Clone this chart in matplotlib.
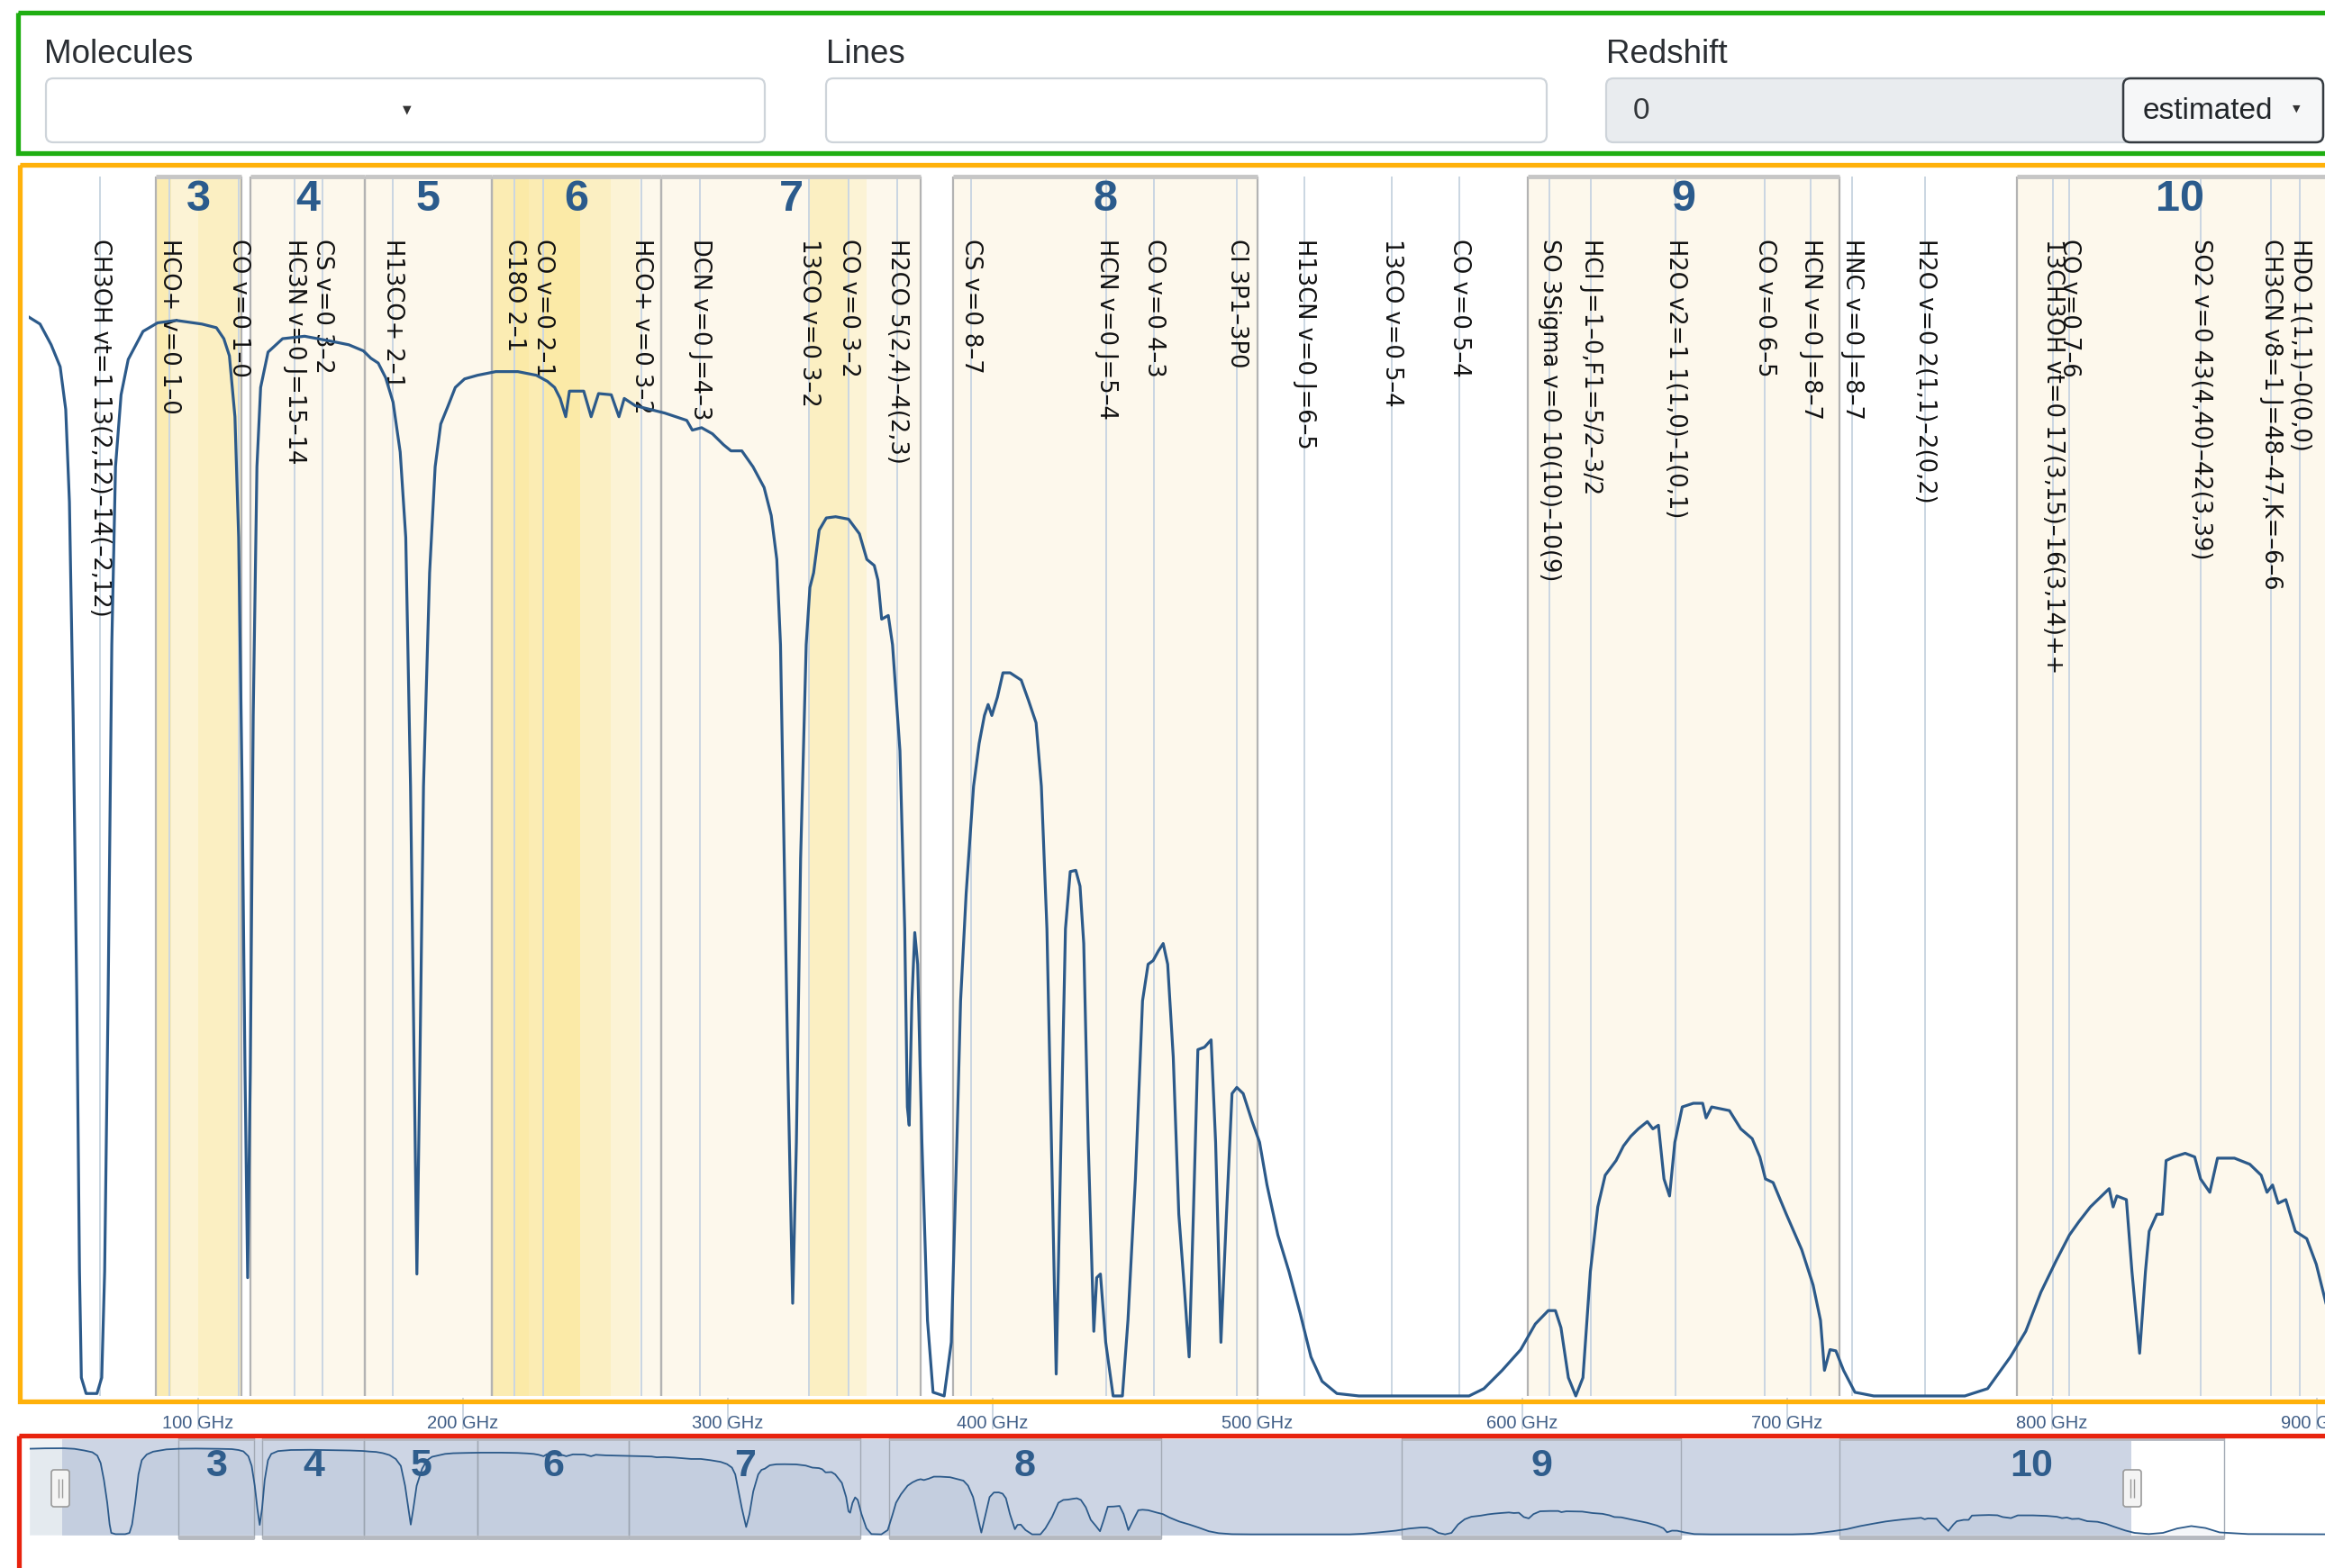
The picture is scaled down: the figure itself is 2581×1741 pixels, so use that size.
#!/usr/bin/env python3

import numpy as np
import matplotlib.pyplot as plt
from matplotlib.patches import Rectangle, FancyBboxPatch

# atmospheric transmission (GHz, fraction)
freq_ghz = [35.96, 40.4, 44.6, 48.0, 50.1, 51.5, 52.9, 54.3, 55.3, 56.0, 57.8, 61.9, 63.7, 64.8,
            66.1, 67.5, 68.9, 71.0, 73.7, 79.3, 84.8, 91.8, 101.5, 107.0, 109.8, 111.9, 114.0,
            115.4, 116.7, 117.8, 118.8, 119.8, 120.9, 122.3, 123.7, 126.5, 132.0, 140.3, 150.1,
            157.0, 162.5, 165.3, 168.1, 170.9, 173.7, 176.4, 178.5, 180.3, 181.7, 182.7, 183.8,
            185.2, 187.5, 189.6, 191.7, 194.5, 197.2, 200.7, 205.6, 212.5, 220.8, 227.8, 232.0,
            234.7, 236.8, 238.9, 240.3, 243.0, 245.7, 248.5, 251.3, 256.1, 259.0, 261.0, 265.2,
            270.7, 276.3, 280.4, 284.6, 286.7, 290.2, 294.3, 298.5, 301.3, 305.4, 309.6, 313.8,
            316.5, 318.6, 320.0, 321.4, 322.8, 324.6, 326.0, 327.6, 329.7, 331.1, 332.5, 334.6,
            337.3, 340.8, 345.7, 349.8, 352.6, 355.4, 356.8, 358.2, 360.7, 362.3, 365.1, 366.9,
            367.9, 368.6, 369.6, 370.7, 371.8, 373.4, 375.5, 377.6, 381.8, 384.5, 386.6, 388.0,
            390.1, 392.9, 395.0, 397.0, 398.4, 399.8, 401.9, 404.0, 406.7, 410.9, 413.7, 416.5,
            418.5, 420.6, 422.3, 424.1, 425.9, 427.6, 429.4, 431.5, 433.1, 434.5, 436.2, 438.3,
            439.4, 440.8, 442.8, 445.6, 449.1, 451.2, 454.0, 456.7, 458.8, 460.7, 462.7, 464.5,
            466.2, 468.3, 470.4, 472.4, 474.3, 475.9, 477.6, 480.1, 482.6, 484.3, 486.3, 488.4,
            490.5, 492.3, 494.7, 498.1, 500.9, 503.7, 507.8, 512.0, 516.2, 520.3, 524.5, 530.1,
            538.4, 580.0, 585.6, 592.5, 599.5, 605.0, 609.9, 612.6, 614.7, 617.5, 620.3, 623.0,
            625.8, 628.6, 631.4, 635.5, 638.3, 641.1, 643.9, 647.3, 649.4, 651.5, 653.6, 655.7,
            657.7, 660.5, 664.7, 668.2, 669.5, 671.6, 678.3, 682.6, 686.9, 689.8, 691.9, 694.8,
            699.8, 705.6, 709.9, 712.7, 714.2, 716.3, 718.5, 721.4, 725.7, 732.8, 767.2, 775.8,
            784.4, 790.2, 795.9, 801.7, 806.7, 810.3, 814.6, 821.7, 823.2, 824.6, 828.2, 830.3,
            833.2, 835.4, 836.8, 839.7, 841.8, 843.2, 846.1, 850.4, 854.0, 856.2, 859.7, 862.6,
            869.0, 874.8, 879.1, 881.3, 883.4, 885.5, 888.4, 892.0, 896.3, 899.9, 903.2, 908.0,
            912.0]
transmission = [0.885, 0.879, 0.862, 0.844, 0.809, 0.733, 0.558, 0.324, 0.102, 0.015, 0.002, 0.002,
                0.015, 0.102, 0.324, 0.616, 0.762, 0.821, 0.850, 0.873, 0.880, 0.882, 0.879, 0.876,
                0.867, 0.853, 0.803, 0.704, 0.500, 0.266, 0.097, 0.266, 0.558, 0.762, 0.827, 0.856,
                0.867, 0.869, 0.865, 0.862, 0.857, 0.851, 0.847, 0.835, 0.815, 0.774, 0.704, 0.500,
                0.266, 0.100, 0.266, 0.500, 0.675, 0.762, 0.797, 0.812, 0.827, 0.834, 0.837, 0.840,
                0.840, 0.837, 0.832, 0.827, 0.818, 0.803, 0.824, 0.824, 0.824, 0.803, 0.822, 0.821,
                0.803, 0.818, 0.812, 0.809, 0.806, 0.803, 0.800, 0.792, 0.794, 0.789, 0.780, 0.775,
                0.775, 0.762, 0.745, 0.722, 0.686, 0.616, 0.441, 0.266, 0.076, 0.208, 0.441, 0.616,
                0.663, 0.675, 0.710, 0.720, 0.721, 0.719, 0.707, 0.686, 0.681, 0.669, 0.637, 0.640,
                0.616, 0.529, 0.383, 0.237, 0.222, 0.324, 0.380, 0.354, 0.208, 0.062, 0.003, 0.000,
                0.044, 0.208, 0.324, 0.412, 0.500, 0.535, 0.558, 0.567, 0.558, 0.573, 0.593, 0.593,
                0.587, 0.570, 0.552, 0.500, 0.383, 0.208, 0.018, 0.208, 0.383, 0.430, 0.431, 0.418,
                0.371, 0.208, 0.053, 0.097, 0.100, 0.044, 0.000, 0.000, 0.062, 0.178, 0.324, 0.354,
                0.357, 0.365, 0.371, 0.354, 0.278, 0.149, 0.091, 0.032, 0.149, 0.284, 0.286, 0.292,
                0.208, 0.044, 0.149, 0.248, 0.253, 0.248, 0.225, 0.208, 0.173, 0.132, 0.102, 0.068,
                0.032, 0.012, 0.002, 0.000, 0.000, 0.006, 0.021, 0.038, 0.059, 0.070, 0.070, 0.056,
                0.015, 0.000, 0.015, 0.102, 0.155, 0.181, 0.193, 0.205, 0.213, 0.219, 0.225, 0.219,
                0.222, 0.178, 0.164, 0.208, 0.237, 0.240, 0.240, 0.228, 0.237, 0.234, 0.219, 0.211,
                0.196, 0.178, 0.175, 0.149, 0.120, 0.091, 0.062, 0.021, 0.038, 0.037, 0.021, 0.003,
                0.000, 0.000, 0.006, 0.032, 0.053, 0.085, 0.111, 0.132, 0.143, 0.155, 0.170, 0.155,
                0.164, 0.161, 0.102, 0.035, 0.102, 0.135, 0.149, 0.149, 0.193, 0.196, 0.199, 0.196,
                0.178, 0.167, 0.195, 0.195, 0.190, 0.181, 0.167, 0.173, 0.158, 0.161, 0.135, 0.129,
                0.108, 0.079, 0.040, 0.015]

# the navigator shows a wider range than the main view
nav_lo_freq = [21.5, 28.0, 33.0]
nav_lo_trans = [0.880, 0.884, 0.885]
nav_hi_freq = [918.0, 924.0, 930.0, 936.0, 942.0, 948.0, 960.0, 1000.0]
nav_hi_trans = [0.003, 0.015, 0.060, 0.085, 0.065, 0.020, 0.003, 0.0]

band_names = ['3', '4', '5', '6', '7', '8', '9', '10']
band_lo = [84.2, 120.0, 163.0, 211.0, 275.0, 385.0, 602.0, 787.0]
band_hi = [116.4, 163.0, 211.0, 275.0, 373.0, 500.0, 720.0, 950.0]

# yellow highlighted spectral windows (overlapping ones look deeper)
spw_lo = [84.2, 84.2, 84.2, 100.0, 211.2, 211.2, 211.2, 219.5, 230.5, 330.5, 330.5]
spw_hi = [116.4, 90.0, 90.0, 116.4, 266.7, 256.0, 244.2, 225.0, 244.2, 352.5, 346.0]

line_labels = ['CH3OH vt=1 13(2,12)–14(–2,12)', 'HCO+ v=0 1–0', 'CO v=0 1–0', 'HC3N v=0 J=15–14',
               'CS v=0 3–2', 'H13CO+ 2–1', 'C18O 2–1', 'CO v=0 2–1', 'HCO+ v=0 3–2',
               'DCN v=0 J=4–3', '13CO v=0 3–2', 'CO v=0 3–2', 'H2CO 5(2,4)–4(2,3)', 'CS v=0 8–7',
               'HCN v=0 J=5–4', 'CO v=0 4–3', 'CI 3P1–3P0', 'H13CN v=0 J=6–5', '13CO v=0 5–4',
               'CO v=0 5–4', 'SO 3Sigma v=0 10(10)–10(9)', 'HCl J=1–0,F1=5/2–3/2',
               'H2O v2=1 1(1,0)–1(0,1)', 'CO v=0 6–5', 'HCN v=0 J=8–7', 'HNC v=0 J=8–7',
               'H2O v=0 2(1,1)–2(0,2)', '13CH3OH vt=0 17(3,15)–16(3,14)++', 'CO v=0 7–6',
               'SO2 v=0 43(4,40)–42(3,39)', 'CH3CN v8=1 J=48–47,K=–6–6', 'HDO 1(1,1)–0(0,0)']
line_freq = [62.9, 89.19, 115.27, 136.46, 146.97, 173.51, 219.56, 230.54, 267.56, 289.64,
             330.59, 345.80, 363.95, 391.85, 443.12, 461.04, 492.16, 517.97, 550.93, 576.27,
             610.2, 625.9, 658.0, 691.47, 708.88, 724.78, 752.03, 800.6, 806.65, 856.2,
             882.7, 893.64]

tick_freq = [100, 200, 300, 400, 500, 600, 700, 800, 900]
tick_labels = [f'{t} GHz' for t in tick_freq]

view_lo, view_hi = 36.0, 910.0
W, H = 2581, 1741
LINE_BLUE = '#2c5a8a'
NARROW = ['Liberation Sans Narrow', 'Liberation Sans', 'DejaVu Sans']
SANS = ['Liberation Sans', 'DejaVu Sans']


def px_box(x0, y0, x1, y1):
    """pixel box (top-left origin) -> figure rect"""
    return [x0 / W, 1 - y1 / H, (x1 - x0) / W, (y1 - y0) / H]


fig = plt.figure(figsize=(W / 100, H / 100), dpi=100)
fig.patch.set_facecolor('white')

# ---------------- main spectrum panel ----------------
ax = fig.add_axes(px_box(31.5, 190, 2601, 1552))
ax.set_xlim(view_lo, view_hi)
ax.set_ylim(-0.0015, 1.0044)
for s in ax.spines.values():
    s.set_visible(False)
ax.set_yticks([])

for lo, hi in zip(band_lo, band_hi):
    ax.add_patch(Rectangle((lo, 0), hi - lo, 1.0, facecolor='#fdf8ec', edgecolor='none', zorder=1))
    ax.plot([lo, hi], [1.0, 1.0], color='#c6c6c6', lw=3.5, zorder=2.6, solid_capstyle='butt')
for lo, hi in zip(spw_lo, spw_hi):
    ax.add_patch(Rectangle((lo, 0), hi - lo, 1.0, facecolor='#fbe27a', alpha=0.2,
                           edgecolor='none', zorder=1.2))

ax.vlines(line_freq, 0, 1.0, color='#cad6e2', lw=1.4, zorder=2)
ax.vlines(band_lo + band_hi, 0, 1.0, color='#b3b3b3', lw=1.6, zorder=2.5)

for name, lo, hi in zip(band_names, band_lo, band_hi):
    xc = (max(lo, view_lo) + min(hi, view_hi)) / 2
    ax.text(xc, 0.981, name, ha='center', va='center', fontsize=35, fontweight='bold',
            color='#2b5b8c', family=NARROW, zorder=3)

for label, f in zip(line_labels, line_freq):
    ax.text(f, 0.949, label, rotation=-90, ha='center', va='top', fontsize=18.5,
            color='#111111', family='DejaVu Sans', zorder=3)

ax.plot(freq_ghz, transmission, color=LINE_BLUE, lw=2.3, zorder=5, solid_joinstyle='round')

ax.set_xticks(tick_freq)
ax.set_xticklabels(tick_labels, family=SANS)
ax.tick_params(axis='x', length=25, width=1.2, color='#c5cfdc', pad=-11,
               labelsize=14.5, labelcolor='#3f5d86')

# ---------------- navigator ----------------
nav = fig.add_axes(px_box(33, 1594, 2600.5, 1710))
nav.set_xlim(21.5, 1000)
nav.set_ylim(-0.059, 1.015)
nav.axis('off')
nav.add_patch(Rectangle((21.5, -0.013), 35.3 - 21.5, 0.991, facecolor='#eef2f5', edgecolor='none'))
nav.add_patch(Rectangle((35.3, -0.013), 910.5 - 35.3, 0.991, facecolor='#cdd5e4', edgecolor='none'))
for lo, hi in zip(band_lo, band_hi):
    nav.add_patch(Rectangle((lo, -0.041), hi - lo, 1.037, facecolor='none',
                            edgecolor='#a2a9b4', lw=1.0))
    nav.plot([lo, hi], [0.99, 0.99], color='#b5b9c0', lw=3.5, solid_capstyle='butt')
    nav.plot([lo, hi], [-0.035, -0.035], color='#b5b9c0', lw=3.5, solid_capstyle='butt')

nav_f = nav_lo_freq + freq_ghz + nav_hi_freq
nav_t = nav_lo_trans + transmission + nav_hi_trans
nav.fill_between(nav_f, 0, nav_t, color=LINE_BLUE, alpha=0.05, lw=0)
nav.plot(nav_f, nav_t, color=LINE_BLUE, lw=1.3)

for name, lo, hi in zip(band_names, band_lo, band_hi):
    nav.text((lo + hi) / 2, 0.70, name, ha='center', va='center', fontsize=31,
             fontweight='bold', color='#2f5d8c', family=NARROW)

# ---------------- page overlay: controls, handles, frames ----------------
ov = fig.add_axes([0, 0, 1, 1], zorder=10)
ov.set_xlim(0, W)
ov.set_ylim(H, 0)
ov.axis('off')
ov.patch.set_alpha(0)

for x0 in [57, 2357]:
    ov.add_patch(FancyBboxPatch((x0, 1632), 20, 41, boxstyle='round,pad=0,rounding_size=3',
                                facecolor='#f4f4f4', edgecolor='#9a9a9a', lw=1.2))
    ov.vlines([x0 + 8, x0 + 12], 1642, 1663, color='#9a9a9a', lw=1.0)

ov.text(49, 61, 'Molecules', fontsize=26.5, color='#2a2e33', va='center', family=SANS)
ov.text(917, 61, 'Lines', fontsize=26.5, color='#2a2e33', va='center', family=SANS)
ov.text(1783, 61, 'Redshift', fontsize=26.5, color='#2a2e33', va='center', family=SANS)

ov.add_patch(FancyBboxPatch((51, 87), 798, 71, boxstyle='round,pad=0,rounding_size=8',
                            facecolor='white', edgecolor='#ced4da', lw=1.6))
ov.text(452, 122, '▼', fontsize=9, color='#333333', ha='center', va='center')
ov.add_patch(FancyBboxPatch((917, 87), 800, 71, boxstyle='round,pad=0,rounding_size=8',
                            facecolor='white', edgecolor='#ced4da', lw=1.6))
ov.add_patch(FancyBboxPatch((1783, 87), 600, 71, boxstyle='round,pad=0,rounding_size=8',
                            facecolor='#e9ecef', edgecolor='#ced4da', lw=1.6))
ov.text(1813, 123, '0', fontsize=24, color='#33373b', va='center', family=SANS)
ov.add_patch(FancyBboxPatch((2357, 87), 222, 71, boxstyle='round,pad=0,rounding_size=8',
                            facecolor='#f6f7f8', edgecolor='#343a40', lw=1.8))
ov.text(2379, 123, 'estimated', fontsize=24, color='#212529', va='center', family=SANS)
ov.text(2549, 121, '▼', fontsize=8, color='#333333', ha='center', va='center')

# coloured annotation frames
ov.add_patch(Rectangle((20, 14), 2620, 156, fill=False, edgecolor='#1fae12', lw=3.8))
ov.add_patch(Rectangle((22, 183), 2620, 1373, fill=False, edgecolor='#ffb10a', lw=3.8))
ov.add_patch(Rectangle((21, 1594), 2620, 220, fill=False, edgecolor='#e8230e', lw=3.8))

plt.savefig('out.png', dpi=100)
plt.close()
